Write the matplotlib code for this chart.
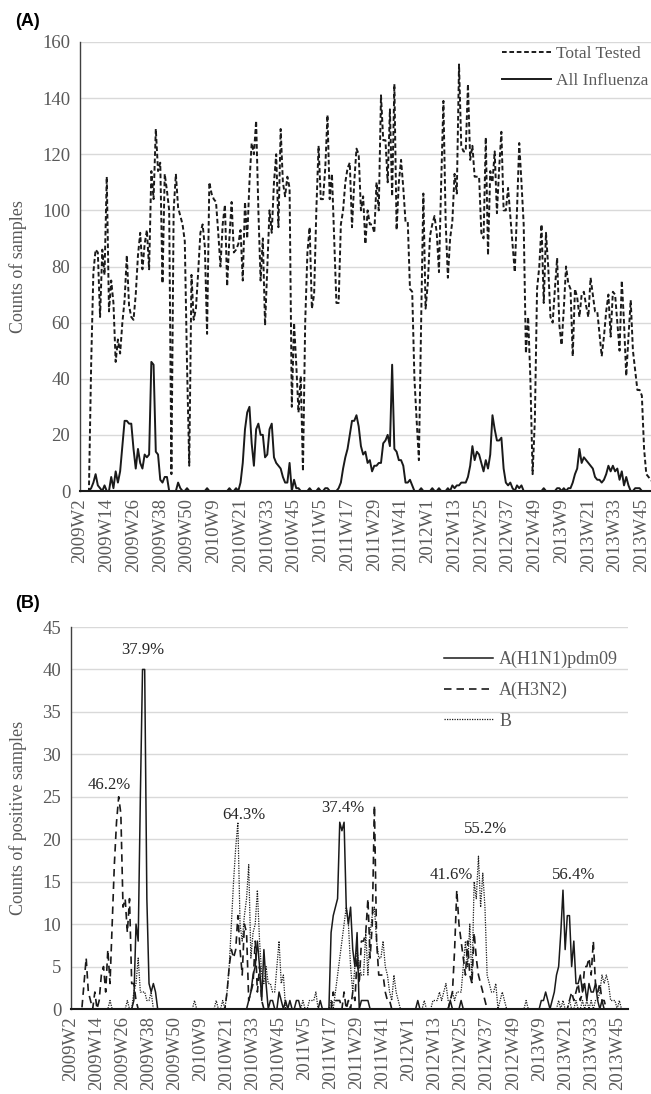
import numpy as np
import matplotlib
matplotlib.use("Agg")
import matplotlib.pyplot as plt

# labels shown on the week axis (every 12th week)
week_ticks = ['2009W2', '2009W14', '2009W26', '2009W38', '2009W50', '2010W9',
              '2010W21', '2010W33', '2010W45', '2011W5', '2011W17', '2011W29',
              '2011W41', '2012W1', '2012W13', '2012W25', '2012W37', '2012W49',
              '2013W9', '2013W21', '2013W33', '2013W45']

# (A) total tested per week
tested_2009 = [0, 0, 0, 0, 0, 45, 78, 86, 85, 62,
               86, 77, 112, 64, 75, 67, 46, 54, 49, 60,
               68, 84, 66, 62, 61, 70, 84, 92, 79, 88,
               93, 79, 114, 104, 129, 114, 117, 74, 113, 107,
               100, 6, 100, 113, 101, 98, 95, 89, 45, 9,
               77, 61]
tested_2010 = [65, 78, 92, 95, 87, 56, 110, 106,
               104, 103, 92, 80, 95, 102, 73, 90, 103, 85,
               86, 88, 93, 75, 103, 90, 110, 124, 120, 132,
               100, 75, 90, 59, 80, 100, 92, 110, 120, 94,
               129, 110, 105, 112, 108, 30, 60, 45, 28, 41,
               7, 60, 85, 94]
tested_2011 = [65, 70, 100, 123, 104, 104, 115, 134, 104, 113,
               90, 67, 67, 95, 100, 110, 115, 117, 94, 110,
               122, 120, 100, 105, 88, 100, 95, 95, 92, 110,
               100, 141, 125, 125, 110, 136, 105, 145, 93, 110,
               118, 108, 96, 96, 72, 71, 40, 25, 11, 60,
               106, 65]
tested_2012 = [74, 91, 95, 98, 92, 78, 110, 139, 96, 76,
               90, 96, 113, 106, 152, 123, 121, 121, 145, 118,
               123, 112, 112, 112, 92, 90, 126, 84, 114, 110,
               121, 99, 115, 128, 100, 100, 108, 98, 88, 78,
               100, 124, 110, 95, 49, 62, 40, 6, 25, 72,
               80, 95]
tested_2013 = [67, 92, 80, 62, 60, 72, 83, 59, 52, 65,
               80, 74, 72, 48, 72, 69, 62, 70, 71, 66,
               62, 76, 70, 64, 64, 56, 48, 55, 64, 70,
               55, 71, 70, 60, 50, 75, 60, 41, 55, 68,
               50, 43, 36, 36, 34, 15, 6, 5, 4, 3]

# (A) all influenza positives per week
flu_2009 = [0, 0, 0, 0, 0, 1, 3, 6, 2, 1,
            0, 2, 0, 0, 5, 1, 7, 3, 7, 16,
            25, 25, 24, 24, 15, 8, 15, 10, 8, 13,
            12, 13, 46, 45, 14, 13, 4, 3, 5, 5,
            0, 0, 0, 0, 3, 1, 0, 0, 1, 0,
            0, 0]
flu_2010 = [0, 0, 0, 0, 0, 1, 0, 0,
            0, 0, 0, 0, 0, 0, 0, 1, 0, 0,
            1, 0, 3, 10, 22, 28, 30, 17, 9, 22,
            24, 20, 20, 12, 13, 22, 24, 12, 10, 9,
            8, 5, 3, 3, 10, 0, 4, 1, 1, 0,
            0, 0, 0, 1]
flu_2011 = [0, 0, 0, 1, 0, 0, 1, 1, 0, 0,
            0, 0, 1, 3, 8, 12, 15, 20, 25, 25,
            27, 23, 16, 13, 14, 10, 11, 7, 9, 9,
            10, 10, 17, 18, 20, 16, 45, 15, 14, 11,
            11, 9, 3, 3, 4, 2, 0, 0, 0, 1,
            0, 0]
flu_2012 = [0, 0, 1, 0, 0, 1, 0, 0, 0, 1,
            0, 2, 1, 2, 2, 3, 3, 3, 5, 9,
            16, 11, 14, 13, 10, 7, 11, 8, 13, 27,
            22, 18, 18, 19, 8, 3, 2, 3, 1, 0,
            2, 1, 2, 0, 0, 0, 0, 0, 0, 0,
            0, 0]
flu_2013 = [1, 0, 0, 0, 0, 0, 1, 1, 0, 1,
            0, 1, 1, 3, 6, 8, 15, 10, 12, 11,
            10, 9, 8, 5, 4, 4, 3, 4, 6, 9,
            7, 9, 7, 8, 4, 7, 2, 5, 2, 0,
            0, 1, 1, 1, 0, 0, 0, 0, 0, 0]

# (B) subtype counts per week
h1_2009 = [0, 0, 0, 0, 0, 0, 0, 0, 0, 0,
           0, 0, 0, 0, 0, 0, 0, 0, 0, 0,
           0, 0, 0, 0, 0, 0, 0, 0, 0, 1,
           10, 8, 25, 40, 40, 13, 3, 2, 3, 2,
           0, 0, 0, 0, 0, 0, 0, 0, 0, 0,
           0, 0]
h1_2010 = [0, 0, 0, 0, 0, 0, 0, 0,
           0, 0, 0, 0, 0, 0, 0, 0, 0, 0,
           0, 0, 0, 0, 0, 0, 0, 0, 0, 0,
           0, 0, 1, 2, 4, 5, 8, 5, 1, 7,
           3, 0, 1, 1, 0, 0, 2, 1, 0, 1,
           0, 1, 0, 0]
h1_2011 = [1, 1, 0, 0, 0, 0, 0, 0, 0, 0,
           0, 1, 0, 0, 0, 0, 9, 11, 12, 13,
           22, 21, 22, 12, 10, 12, 7, 5, 9, 0,
           1, 1, 1, 1, 0, 0, 0, 0, 0, 0,
           0, 0, 0, 0, 0, 0, 0, 0, 0, 0,
           0, 0]
h1_2012 = [0, 0, 0, 0, 1, 0, 0, 0, 0, 0,
           0, 0, 0, 0, 0, 0, 0, 0, 0, 1,
           0, 0, 0, 0, 1, 0, 0, 0, 0, 0,
           0, 0, 0, 0, 0, 0, 0, 0, 0, 0,
           0, 0, 0, 0, 0, 0, 0, 0, 0, 0,
           0, 0]
h1_2013 = [0, 0, 0, 0, 0, 0, 0, 0, 0, 1,
           1, 2, 1, 0, 1, 2, 4, 5, 9, 14,
           7, 11, 11, 5, 8, 3, 3, 4, 2, 3,
           1, 3, 2, 2, 3, 1, 0, 1, 0, 0,
           0, 0, 0, 0, 0, 0, 0, 0, 0, 0]

h3_2009 = [0, 0, 0, 0, 0, 0, 3, 6, 2, 1,
           0, 2, 0, 1, 4, 5, 2, 7, 3, 10,
           17, 22, 25, 23, 12, 13, 9, 13, 3, 3,
           1, 0, 0, 0, 0, 0, 0, 0, 0, 0,
           0, 0, 0, 0, 0, 0, 0, 0, 0, 0,
           0, 0]
h3_2010 = [0, 0, 0, 0, 0, 0, 0, 0,
           0, 0, 0, 0, 0, 0, 0, 0, 0, 0,
           0, 0, 2, 5, 7, 6, 7, 11, 7, 4,
           10, 9, 1, 2, 3, 8, 2, 5, 1, 0,
           0, 0, 0, 0, 0, 0, 0, 0, 0, 0,
           0, 0, 0, 0]
h3_2011 = [0, 0, 0, 0, 0, 0, 0, 0, 0, 0,
           0, 0, 0, 0, 0, 0, 0, 2, 1, 1,
           1, 0, 2, 0, 1, 0, 2, 1, 6, 3,
           8, 8, 9, 13, 6, 10, 24, 8, 4, 4,
           4, 2, 1, 1, 0, 0, 0, 0, 0, 0,
           0, 0]
h3_2012 = [0, 0, 0, 0, 0, 0, 0, 0, 0, 0,
           0, 0, 0, 0, 0, 0, 0, 0, 0, 1,
           2, 7, 14, 10, 8, 6, 4, 8, 4, 3,
           9, 6, 4, 3, 2, 1, 0, 0, 0, 0,
           0, 0, 0, 0, 0, 0, 0, 0, 0, 0,
           0, 0]
h3_2013 = [0, 0, 0, 0, 0, 0, 0, 0, 0, 0,
           0, 0, 0, 0, 0, 0, 0, 0, 0, 0,
           0, 0, 1, 2, 1, 2, 3, 1, 2, 5,
           5, 6, 4, 8, 3, 2, 3, 1, 1, 0,
           0, 0, 0, 0, 0, 0, 0, 0, 0, 0]

b_2009 = [0, 0, 0, 0, 0, 0, 0, 0, 0, 0,
          0, 0, 0, 0, 0, 0, 0, 0, 1, 0,
          0, 0, 0, 0, 0, 0, 1, 0, 0, 2,
          3, 6, 2, 2, 2, 1, 1, 2, 0, 0,
          0, 0, 0, 0, 0, 0, 0, 0, 0, 0,
          0, 0]
b_2010 = [0, 0, 0, 0, 0, 1, 0, 0,
          0, 0, 0, 0, 0, 0, 0, 1, 0, 0,
          1, 0, 2, 5, 10, 15, 19, 22, 10, 8,
          11, 13, 17, 6, 9, 10, 14, 8, 4, 3,
          5, 3, 3, 2, 2, 5, 8, 3, 4, 0,
          0, 0, 0, 0]
b_2011 = [0, 0, 0, 1, 0, 0, 1, 1, 1, 2,
          0, 0, 0, 0, 0, 0, 1, 0, 2, 4,
          6, 8, 10, 12, 10, 5, 2, 5, 7, 5,
          4, 4, 9, 4, 9, 11, 12, 8, 6, 6,
          8, 5, 4, 2, 1, 4, 2, 1, 0, 0,
          0, 0]
b_2012 = [0, 0, 0, 0, 0, 0, 0, 1, 0, 0,
          0, 1, 1, 1, 2, 1, 2, 3, 1, 1,
          2, 1, 2, 2, 2, 5, 8, 5, 10, 3,
          15, 13, 18, 12, 16, 12, 4, 3, 2, 2,
          3, 0, 1, 2, 1, 0, 0, 0, 0, 0,
          0, 0]
b_2013 = [0, 0, 1, 0, 0, 0, 0, 0, 0, 0,
          0, 0, 0, 0, 0, 0, 0, 1, 0, 1,
          0, 0, 1, 0, 0, 1, 0, 0, 1, 0,
          1, 0, 1, 0, 1, 1, 2, 4, 3, 4,
          3, 1, 1, 1, 0, 1, 0, 0, 0, 0]

tested = tested_2009 + tested_2010 + tested_2011 + tested_2012 + tested_2013
flu = flu_2009 + flu_2010 + flu_2011 + flu_2012 + flu_2013
h1 = h1_2009 + h1_2010 + h1_2011 + h1_2012 + h1_2013
h3 = h3_2009 + h3_2010 + h3_2011 + h3_2012 + h3_2013
bb = b_2009 + b_2010 + b_2011 + b_2012 + b_2013

# positivity notes above each season peak: text, week index, height
pct_text = ['37.9%', '46.2%', '64.3%', '37.4%', '55.2%', '41.6%', '56.4%']
pct_week = [33.2, 17.5, 79.8, 125.5, 191.5, 175.4, 232.1]
pct_y = [42.3, 26.4, 22.9, 23.7, 21.2, 15.8, 15.8]

W, H = 651, 1094
TXT = '#595959'
INK = '#1a1a1a'
plt.rcParams['font.family'] = ['Liberation Serif', 'DejaVu Serif']

fig = plt.figure(figsize=(W / 100, H / 100), dpi=100)
x = np.arange(len(tested))


def style(ax, ymax, ystep):
    ax.set_xlim(0, len(tested) - 1)
    ax.set_ylim(0, ymax)
    ax.set_yticks(np.arange(0, ymax + 1, ystep))
    ax.set_xticks(np.arange(0, len(tested), 12)[:len(week_ticks)])
    ax.set_xticklabels(week_ticks, rotation=90)
    ax.tick_params(axis='both', length=0, colors=TXT, labelsize=13.5)
    ax.tick_params(axis='y', pad=7)
    ax.tick_params(axis='x', pad=5)
    ax.grid(axis='y', color='#d9d9d9', lw=1.0)
    ax.set_axisbelow(True)
    for s in ('top', 'right'):
        ax.spines[s].set_visible(False)
    ax.spines['left'].set_color('#404040')
    ax.spines['left'].set_linewidth(1.0)
    ax.spines['bottom'].set_color(INK)
    ax.spines['bottom'].set_linewidth(1.5)


# panel A (plot area runs just past the right edge, as in the source)
axA = fig.add_axes([80 / W, 1 - 491 / H, 573 / W, 449 / H])
axA.plot(x, tested, color=INK, lw=1.4, dashes=(2.4, 1.4), label='Total Tested')
axA.plot(x, flu, color=INK, lw=1.4, label='All Influenza')
style(axA, 160, 20)
axA.set_ylabel('Counts of samples', fontsize=13, color=TXT)
axA.yaxis.set_label_coords((27 - 80) / 573, 0.5)
axA.legend(loc='upper left', bbox_to_anchor=(502 / W, 1 - 46 / H),
           bbox_transform=fig.transFigure, frameon=False, fontsize=12.5,
           handlelength=2.8, handletextpad=0.3, labelspacing=0.6,
           borderpad=0, borderaxespad=0, labelcolor=TXT)

# panel B
axB = fig.add_axes([71 / W, 1 - 1009 / H, 557 / W, 382 / H])
axB.plot(x, h1, color=INK, lw=1.1, label='A(H1N1)pdm09')
axB.plot(x, h3, color=INK, lw=1.2, dashes=(4.5, 3), label='A(H3N2)')
axB.plot(x, bb, color=INK, lw=0.9, dashes=(1, 1), label='B')
style(axB, 45, 5)
axB.set_ylabel('Counts of positive samples', fontsize=13, color=TXT)
axB.yaxis.set_label_coords((27 - 71) / 557, 0.5)
axB.legend(loc='upper left', bbox_to_anchor=(444 / W, 1 - 651 / H),
           bbox_transform=fig.transFigure, frameon=False, fontsize=13,
           handlelength=2.7, handletextpad=0.35, labelspacing=0.75,
           borderpad=0, borderaxespad=0, labelcolor=TXT)

for t, wk, yv in zip(pct_text, pct_week, pct_y):
    axB.text(wk, yv, t, ha='center', va='center', fontsize=12, color='#262626')

fig.text(15 / W, 1 - 21 / H, '(A)', fontsize=13, fontweight='bold',
         family=['Liberation Sans', 'DejaVu Sans'], va='center', ha='left')
fig.text(15 / W, 1 - 603 / H, '(B)', fontsize=13, fontweight='bold',
         family=['Liberation Sans', 'DejaVu Sans'], va='center', ha='left')

fig.savefig('out.png', dpi=100)
